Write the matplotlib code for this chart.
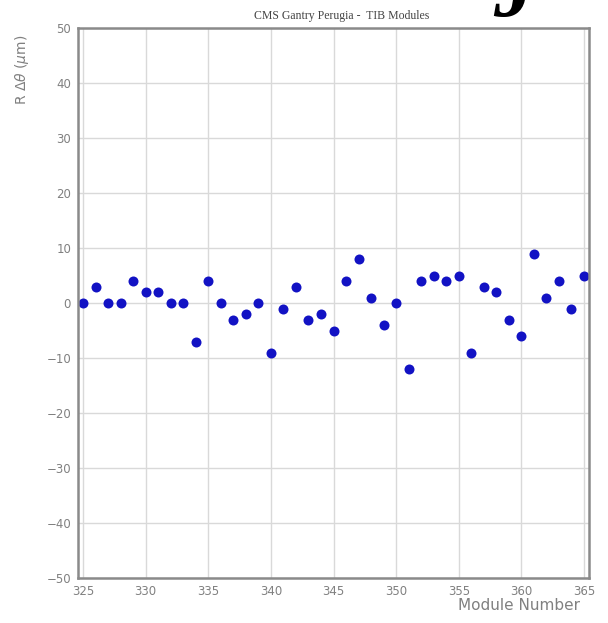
import numpy as np
import matplotlib
matplotlib.use('Agg')
import matplotlib.pyplot as plt

modules = np.arange(325, 366)
r_dtheta = [0, 3, 0, 0, 4, 2, 2, 0, 0, -7,
            4, 0, -3, -2, 0, -9, -1, 3, -3, -2,
            -5, 4, 8, 1, -4, 0, -12, 4, 5, 4,
            5, -9, 3, 2, -3, -6, 9, 1, 4, -1, 5]
xticks = [325, 330, 335, 340, 345, 350, 355, 360, 365]
yticks = [-50, -40, -30, -20, -10, 0, 10, 20, 30, 40, 50]

fig = plt.figure(figsize=(6.08, 6.23), dpi=100)
ax = fig.add_axes([78/608, 1 - 578/623, (589 - 78)/608, (578 - 28)/623])

ax.plot(modules, r_dtheta, 'o', color='#1212c4', markersize=7.2, markeredgewidth=0)

ax.set_xlim(324.6, 365.4)
ax.set_ylim(-50, 50)
ax.set_xticks(xticks)
ax.set_yticks(yticks)
ax.set_yticklabels([str(v).replace('-', '\u2212') for v in yticks])
ax.grid(True, color='#d9d9d9', linewidth=1.0)
ax.set_axisbelow(True)
ax.tick_params(length=0, colors='#808080', labelsize=8.5, pad=5)
for s in ax.spines.values():
    s.set_color('#8a8a8a')
    s.set_linewidth(1.8)

fig.text(342/608, 1 - 16/623, 'CMS Gantry Perugia -  TIB Modules', ha='center', va='center',
         family='Liberation Serif', fontsize=8.5, color='#444444')
fig.text(22/608, 1 - 70/623, r'R $\Delta\theta$ ($\mu$m)', rotation=90, ha='center', va='center',
         fontsize=10, color='#808080')
fig.text(580/608, 1 - 606/623, 'Module Number', ha='right', va='center',
         fontsize=11, color='#808080')
# fragment of a large letter cut off at the top edge
fig.text(514/608, 1 - 16/623, 'J', ha='center', va='baseline', family='Liberation Serif',
         style='italic', fontweight='bold', fontsize=60, color='black')

plt.savefig('out.png', dpi=100)
